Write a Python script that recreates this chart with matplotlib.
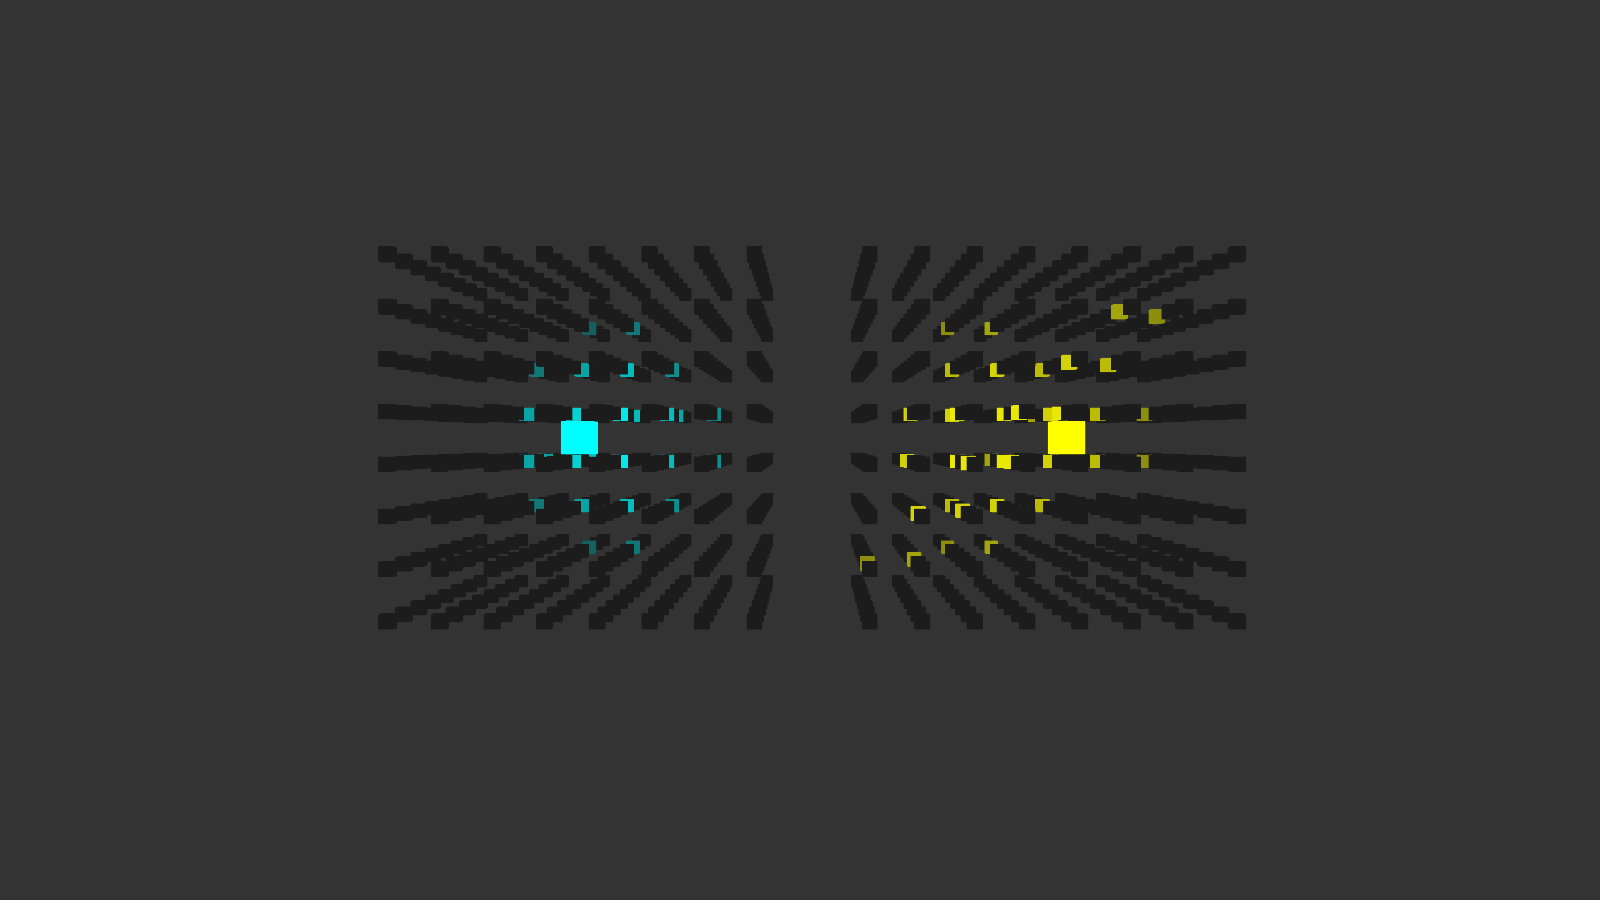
import numpy as np
import matplotlib
matplotlib.use("Agg")
import matplotlib.pyplot as plt

# grid definition
cols = list(range(8))          # x index per block
rows = list(range(8))          # z index
layers = list(range(8))        # depth index
left_offset = 0.0
right_offset = 9.2

# highlighted cells: (col, layer, row, intensity)
cyan_cells = [
    (2,3,3,0.6),(3,3,3,0.8),(4,3,3,0.9),(5,3,3,0.7),(6,3,3,0.5),
    (2,3,4,0.6),(3,3,4,0.8),(4,3,4,0.9),(5,3,4,0.7),(6,3,4,0.5),
    (2,4,2,0.4),(3,4,2,0.6),(4,4,2,0.7),(5,4,2,0.5),
    (2,4,5,0.4),(3,4,5,0.6),(4,4,5,0.7),(5,4,5,0.5),
    (3,5,1,0.3),(4,5,1,0.4),(3,5,6,0.3),(4,5,6,0.4),
    (2,5,3,0.6),(3,5,3,0.7),(4,5,4,0.7),(5,5,4,0.6),
]
yellow_cells = [
    (0,1,1,0.5),(1,1,2,0.8),(2,1,3,0.9),(3,1,4,0.9),(4,1,5,0.8),(5,1,6,0.6),
    (1,2,1,0.6),(2,2,2,0.8),(3,2,3,0.9),(4,2,4,0.9),(5,2,5,0.7),(6,2,6,0.5),
    (1,3,3,0.8),(2,3,3,0.9),(3,3,3,0.9),(4,3,3,0.8),(5,3,3,0.7),(6,3,3,0.5),
    (1,3,4,0.8),(2,3,4,0.9),(3,3,4,0.9),(4,3,4,0.8),(5,3,4,0.7),(6,3,4,0.5),
    (2,4,2,0.7),(3,4,2,0.8),(4,4,2,0.7),(2,4,5,0.7),(3,4,5,0.8),(4,4,5,0.7),
    (2,5,1,0.5),(3,5,1,0.6),(2,5,6,0.5),(3,5,6,0.6),
    (1,4,3,0.8),(2,4,4,0.8),(3,5,3,0.6),(4,5,4,0.6),
]
big_cyan = (3.8, 0.0, 3.5)
big_yellow = (right_offset + 3.6, 0.0, 3.5)

bg = "#333333"
dark = np.array([0.11, 0.11, 0.11])
fig = plt.figure(figsize=(16, 9), dpi=100, facecolor=bg)
ax = fig.add_axes([0, 0, 1, 1], projection="3d", facecolor=bg)
ax.set_proj_type("persp", focal_length=0.35)
ax.view_init(elev=0, azim=-90)
ax.set_axis_off()

hi = {}
for c, d, r, v in cyan_cells:
    hi[(left_offset, c, d, r)] = (1 - v) * dark + v * np.array([0, 1, 1])
for c, d, r, v in yellow_cells:
    hi[(right_offset, c, d, r)] = (1 - v) * dark + v * np.array([1, 1, 0])

s = 0.28
xs, ys, zs, cs = [], [], [], []
for off in (left_offset, right_offset):
    for c in cols:
        for d in layers:
            for r in rows:
                xs.append(off + c); ys.append(d * 1.3 + 1.0); zs.append(r)
                cs.append(tuple(hi.get((off, c, d, r), dark)))
ax.bar3d(np.array(xs) - s/2, np.array(ys) - s/2, np.array(zs) - s/2, s, s, s,
         color=cs, shade=False, linewidth=0)

for (bx, by, bz), col in ((big_cyan, "#00ffff"), (big_yellow, "#ffff00")):
    ax.bar3d(bx - 0.3, by - 0.3, bz - 0.3, 0.6, 0.6, 0.6, color=col, shade=False, linewidth=0)

ax.set_xlim(-0.5, 16.7)
ax.set_ylim(0, 12)
ax.set_zlim(-0.5, 7.5)
ax.set_box_aspect((17.2, 12, 8), zoom=1.1)
fig.savefig("out.png", facecolor=bg)
